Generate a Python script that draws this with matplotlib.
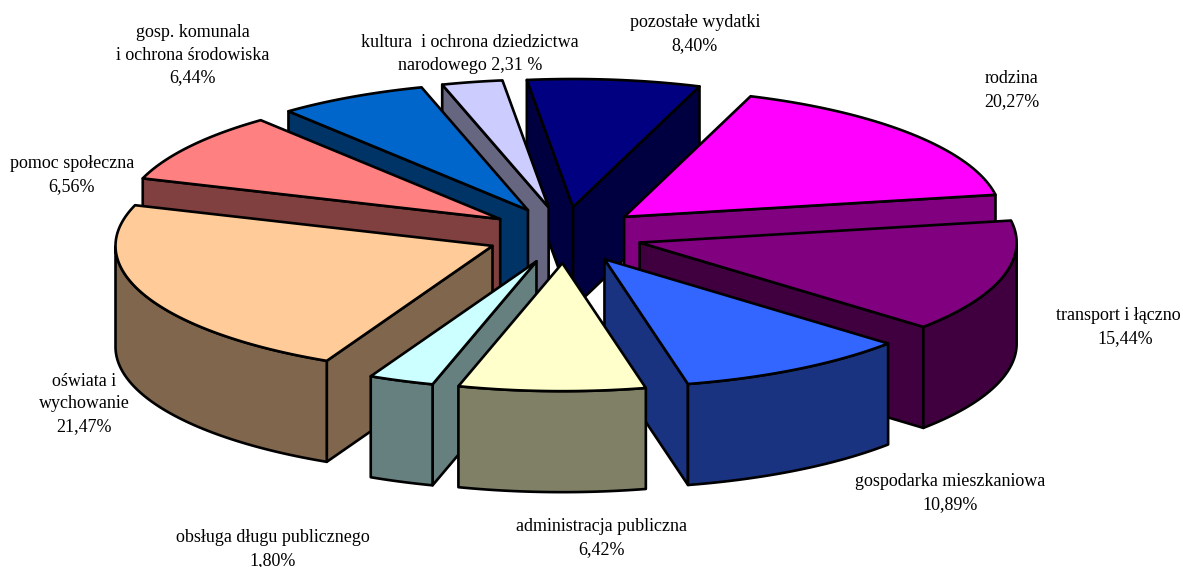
import numpy as np
import matplotlib
matplotlib.use("Agg")
import matplotlib.pyplot as plt

# Slices clockwise from the top; drawn_shares are read from the angles in the picture,
# the label texts are as written on the chart.
categories = ["rodzina", "transport i łączno", "gospodarka mieszkaniowa",
              "administracja publiczna", "obsługa długu publicznego",
              "oświata i\nwychowanie", "pomoc społeczna",
              "gosp. komunala\ni ochrona środowiska",
              "kultura  i ochrona dziedzictwa\nnarodowego 2,31 %", "pozostałe wydatki"]
printed = ["20,27%", "15,44%", "10,89%", "6,42%", "1,80%", "21,47%", "6,56%", "6,44%", "", "8,40%"]
drawn_shares = [16.8, 14.2, 10.0, 8.0, 2.8, 22.9, 8.9, 6.4, 2.6, 7.4]
top_colors = ["#FF00FF", "#800080", "#3366FF", "#FFFFCC", "#CCFFFF",
              "#FFCC99", "#FF8080", "#0066CC", "#CCCCFF", "#000080"]
# centre of each label block
label_xy = [(1012, 90), (1118, 327), (950, 493), (602, 538), (273, 549),
            (84, 404), (72, 175), (193, 55), (470, 54), (695, 34)]

START = 19.6; CX, CY = 564.5, 235; RX, RY = 377, 128; DEPTH = 101
EXPLODE_X, EXPLODE_Y = 0.207, 0.22

fig = plt.figure(figsize=(11.83, 5.67), dpi=100)
ax = fig.add_axes([0, 0, 1, 1])
ax.set_xlim(0, 1183); ax.set_ylim(567, 0); ax.axis("off")

shares = np.array(drawn_shares, float)
spans = shares / shares.sum() * 360
starts = START + np.concatenate([[0], np.cumsum(spans)[:-1]])

def shade(c):
    return tuple(v / 2 for v in matplotlib.colors.to_rgb(c))

def rim(t, ox, oy):
    t = np.radians(t)
    return np.column_stack([ox + RX * np.sin(t), oy - RY * np.cos(t)])

mids = starts + spans / 2
order = np.argsort(-np.cos(np.radians(mids)))
kw = dict(edgecolor="black", linewidth=1.9, joinstyle="round")
down = np.array([0, DEPTH])
for i in order:
    m = np.radians(mids[i])
    ox = CX + EXPLODE_X * RX * np.sin(m)
    oy = CY - EXPLODE_Y * RY * np.cos(m)
    apex = np.array([ox, oy])
    c, s = top_colors[i], shade(top_colors[i])
    t0, t1 = starts[i], starts[i] + spans[i]
    ts = np.linspace(t0, t1, 80)
    arc = rim(ts, ox, oy)
    # only the radial walls that face the viewer
    if np.sin(np.radians(t0)) < 0:
        e = arc[0]
        ax.fill(*np.array([apex, e, e + down, apex + down]).T, facecolor=s, **kw)
    if np.sin(np.radians(t1)) > 0:
        e = arc[-1]
        ax.fill(*np.array([apex, e, e + down, apex + down]).T, facecolor=s, **kw)
    front = ts[np.cos(np.radians(ts)) < 0]
    if len(front) > 1:
        a = rim(front, ox, oy)
        ax.fill(*np.vstack([a, (a + down)[::-1]]).T, facecolor=s, **kw)
    ax.fill(*np.vstack([apex, arc]).T, facecolor=c, **kw)

font = dict(family="Liberation Serif", fontsize=13, va="center", color="black", linespacing=1.45)
for name, pct, (x, y) in zip(categories, printed, label_xy):
    if name.startswith("transport"):
        # the first line runs into the right edge in the reference: two separate lines
        ax.text(x, y - 12, name, ha="center", **font)
        ax.text(x + 7, y + 12, pct, ha="center", **font)
        continue
    ax.text(x, y, name + ("\n" + pct if pct else ""), ha="center", **font)

fig.savefig("out.png", dpi=100)
